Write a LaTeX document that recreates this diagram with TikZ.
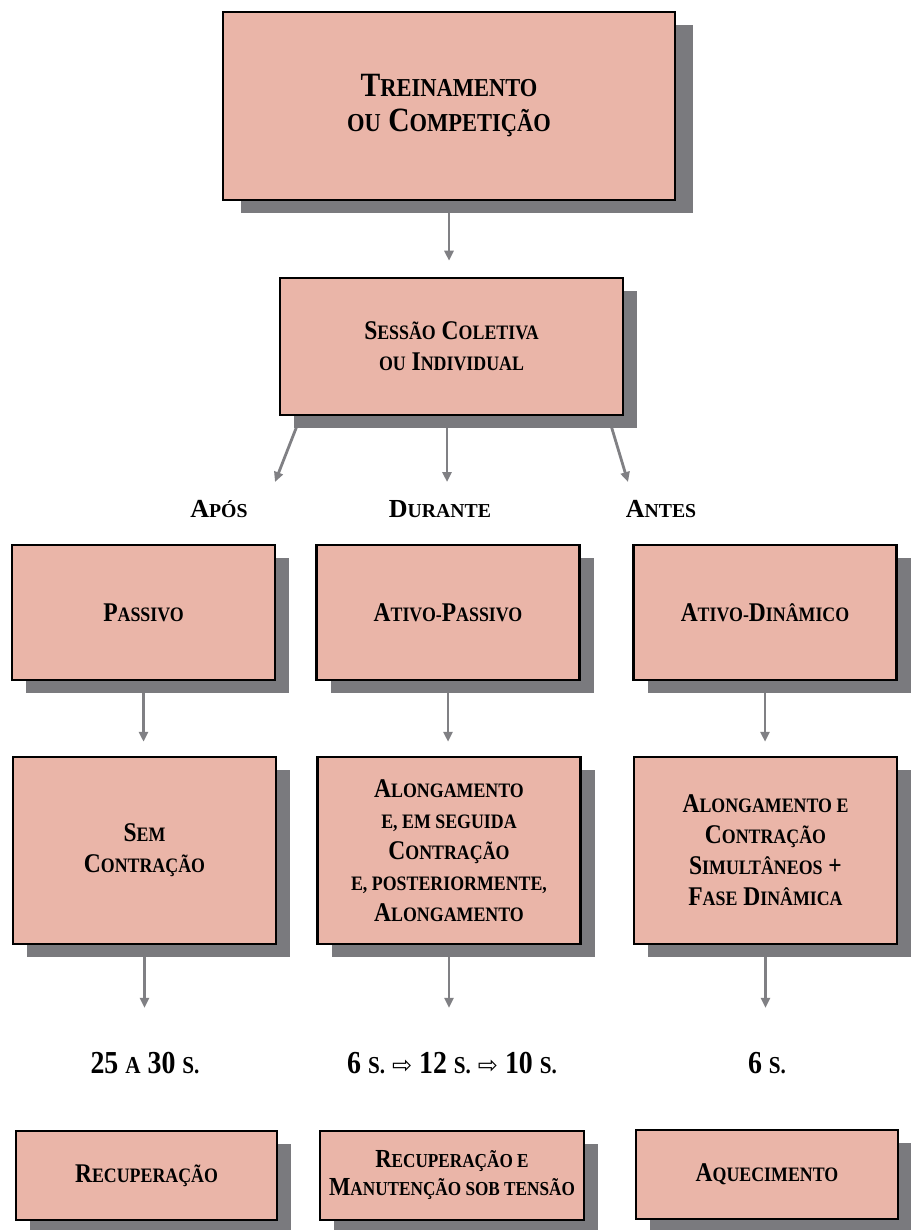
\documentclass[tikz,border=0pt]{standalone}
\usepackage{fontspec}
\setmainfont{Liberation Serif}
\newfontfamily\boxfont{Liberation Serif}[FakeStretch=0.87]
\newfontfamily\symfont{DejaVu Sans}
\usetikzlibrary{arrows.meta,shadows,calc}

\definecolor{boxpink}{RGB}{234,181,168}
\definecolor{shadowgray}{RGB}{122,122,126}
\definecolor{arrowgray}{RGB}{128,128,132}

% hand-made small capitals
\newcommand\sm[1]{\scalebox{0.76}{#1}}
\newcommand\thenarrow{{\symfont\mdseries\fontsize{24}{24}\selectfont ⇨}}

\pgfdeclarelayer{links}
\pgfsetlayers{links,main}

\begin{document}
\begin{tikzpicture}[x=1pt,y=-1pt,
  card/.style={draw=black, line width=2.5pt, fill=boxpink, align=center,
    inner sep=0pt,
    drop shadow={shadow xshift=#1, shadow yshift=-13pt, fill=shadowgray, opacity=1},
    font=\boxfont\bfseries\fontsize{27}{31}\selectfont},
  card/.default=14pt,
  colcard/.style={card, minimum width=263pt},
  phase/.style={font=\bfseries\fontsize{26}{26}\selectfont, inner sep=0pt,
    anchor=base},
  timing/.style={font=\boxfont\bfseries\fontsize{32}{32}\selectfont, inner sep=0pt,
    anchor=base, text height=21pt, text depth=0pt},
  link/.style={draw=arrowgray, line width=2.8pt,
    -{Triangle[length=10pt,width=9pt]}}]

\useasboundingbox (0,0) rectangle (910,1230);

% top level
\node[card=18pt, minimum width=452pt, minimum height=188pt,
      font=\boxfont\bfseries\fontsize{34}{35}\selectfont] (top) at (449,106)
  {T\sm{REINAMENTO}\\\sm{OU} C\sm{OMPETIÇÃO}};

\node[card, minimum width=343pt, minimum height=137pt] (sess) at (451.5,346.5)
  {S\sm{ESSÃO} C\sm{OLETIVA}\\\sm{OU} I\sm{NDIVIDUAL}};

% moments
\node[phase] (apos) at (219,517) {A\sm{PÓS}};
\node[phase] (dur)  at (440,517) {D\sm{URANTE}};
\node[phase] (ant)  at (661,517) {A\sm{NTES}};
\coordinate (tipA) at (275,482);
\coordinate (tipB) at (447,482);
\coordinate (tipC) at (628,482);

% stretching types
\node[colcard, minimum height=135pt] (p1) at (143.5,612.5) {P\sm{ASSIVO}};
\node[colcard, minimum height=135pt] (p2) at (448,612.5) {A\sm{TIVO-}P\sm{ASSIVO}};
\node[colcard, minimum height=135pt] (p3) at (765,612.5) {A\sm{TIVO-}D\sm{INÂMICO}};

% procedures
\node[colcard, minimum height=187pt] (q1) at (144.5,850.5)
  {S\sm{EM}\\C\sm{ONTRAÇÃO}};
\node[colcard, minimum height=187pt] (q2) at (449,850.5)
  {A\sm{LONGAMENTO}\\\sm{E, EM SEGUIDA}\\C\sm{ONTRAÇÃO}\\\sm{E, POSTERIORMENTE,}\\A\sm{LONGAMENTO}};
\node[colcard, minimum height=187pt] (q3) at (765.5,850.5)
  {A\sm{LONGAMENTO E}\\C\sm{ONTRAÇÃO}\\S\sm{IMULTÂNEOS} +\\F\sm{ASE} D\sm{INÂMICA}};

% durations
\node[timing] (tA) at (145,1073) {25 \sm{A} 30 \sm{S.}};
\node[timing] (tB) at (452,1073) {6 \sm{S.} \thenarrow{} 12 \sm{S.} \thenarrow{} 10 \sm{S.}};
\node[timing] (tC) at (767,1073) {6 \sm{S.}};

% aims
\node[colcard, minimum height=89pt, minimum width=261pt] (r1) at (146.5,1175.5)
  {R\sm{ECUPERAÇÃO}};
\node[colcard, minimum height=89pt, minimum width=264pt,
      font=\boxfont\bfseries\fontsize{26}{28}\selectfont] (r2) at (452,1175.5)
  {R\sm{ECUPERAÇÃO E}\\M\sm{ANUTENÇÃO SOB TENSÃO}};
\node[colcard, minimum height=89pt, minimum width=262pt] (r3) at (767,1174.5)
  {A\sm{QUECIMENTO}};

\begin{pgfonlayer}{links}
  \fill[white] (0,0) rectangle (910,1230);
  \draw[link, shorten >=16pt] (top.south) -- (top.south |- sess.north);
  \draw[link] ($(sess.south west)+(22,0)$) -- (tipA);
  \draw[link] (sess.south -| tipB) -- (tipB);
  \draw[link] ($(sess.south east)+(-16,0)$) -- (tipC);
  \foreach \a/\b in {p1/q1,p2/q2,p3/q3}
    \draw[link, shorten >=14pt] (\a.south) -- (\a.south |- \b.north);
  \draw[link, shorten >=44pt] (q1.south) -- (q1.south |- tA.north);
  \draw[link, shorten >=44pt] (q2.south) -- (q2.south |- tB.north);
  \draw[link, shorten >=44pt] (q3.south) -- (q3.south |- tC.north);
\end{pgfonlayer}
\end{tikzpicture}
\end{document}
